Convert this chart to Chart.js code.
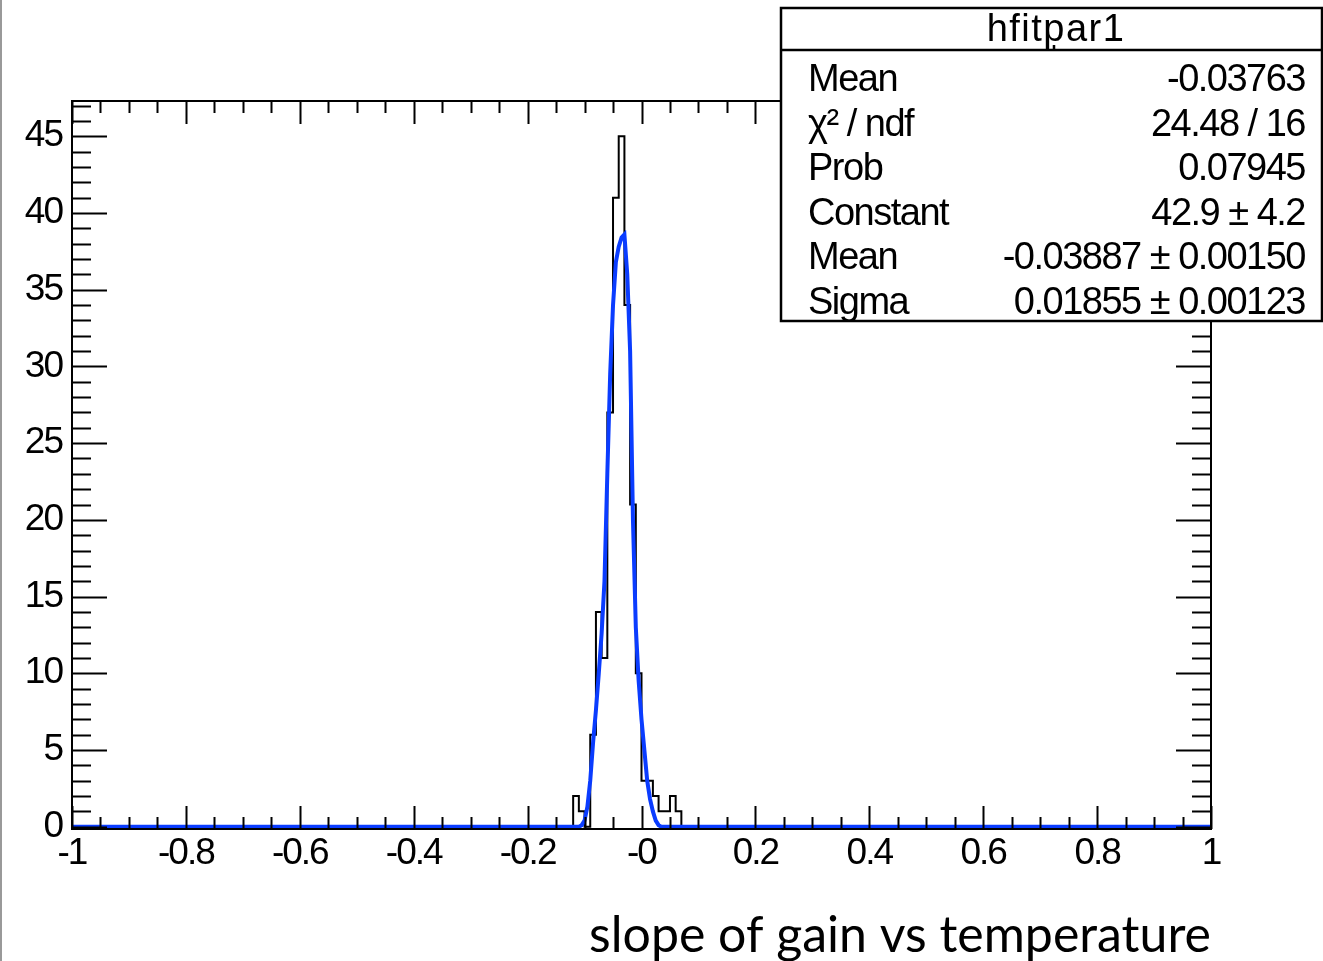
<!DOCTYPE html>
<html>
<head>
<meta charset="utf-8">
<script src="https://cdn.jsdelivr.net/npm/chart.js@4.4.1/dist/chart.umd.min.js"></script>
<style>
  html, body { margin: 0; padding: 0; background: #fff; }
  #wrap { width: 1323px; height: 961px; }
</style>
</head>
<body>
<div id="wrap"><canvas id="graph" width="1323" height="961"></canvas></div>
<script>
// hfitpar1: 200 bins of 0.01 over [-1, 1], only the non-empty region is listed
const binLowEdges = [-0.12, -0.11, -0.10, -0.09, -0.08, -0.07, -0.06, -0.05, -0.04, -0.03,
                     -0.02, -0.01, 0.00, 0.01, 0.02, 0.03, 0.04, 0.05, 0.06, 0.07];
const binCounts   = [2, 1, 0, 6, 14, 11, 27, 41, 45, 34,
                     21, 10, 3, 3, 2, 1, 1, 2, 1, 0];

// gaussian fit curve as drawn
const fitX = [-1, -0.11, -0.105, -0.10, -0.095, -0.09, -0.085, -0.08, -0.075, -0.07, -0.065,
              -0.06, -0.055, -0.05, -0.045, -0.04, -0.035, -0.03, -0.025, -0.02, -0.015,
              -0.01, -0.005, 0.0, 0.005, 0.01, 0.015, 0.02, 0.025, 0.03, 0.035, 1];
const fitY = [0, 0, 0.1, 0.4, 1.3, 3.0, 5.5, 7.6, 10.0, 12.6, 16.0,
              23.0, 29.5, 34.0, 36.8, 37.8, 38.4, 38.6, 36.0, 31.0, 20.0,
              13.0, 9.5, 7.0, 5.0, 3.0, 1.8, 1.0, 0.4, 0.1, 0, 0];

const xTickValues = [-1, -0.8, -0.6, -0.4, -0.2, 0, 0.2, 0.4, 0.6, 0.8, 1];
const xTickLabels = ['-1', '-0.8', '-0.6', '-0.4', '-0.2', '-0', '0.2', '0.4', '0.6', '0.8', '1'];
const yTickValues = [0, 5, 10, 15, 20, 25, 30, 35, 40, 45];
const yTickLabels = ['0', '5', '10', '15', '20', '25', '30', '35', '40', '45'];

const statTitle = 'hfitpar1';
const statNames  = ['Mean', 'χ² / ndf', 'Prob', 'Constant', 'Mean', 'Sigma'];
const statValues = ['-0.03763', '24.48 / 16', '0.07945', '42.9 ± 4.2', '-0.03887 ± 0.00150', '0.01855 ± 0.00123'];

const xTitle = 'slope of gain vs temperature';

const histPoints = [{x: -1, y: 0}];
binLowEdges.forEach((e, i) => histPoints.push({x: e, y: binCounts[i]}));
histPoints.push({x: 1, y: 0});
const fitPoints = fitX.map((x, i) => ({x: x, y: fitY[i]}));

const labelFont = {family: '"Liberation Sans", Arial, sans-serif', size: 37};

// ROOT style frame: ticks drawn inside on all four sides, stats box on top
const rootFrame = {
  id: 'rootFrame',
  beforeDraw(chart) {
    chart.ctx.letterSpacing = '0px';
  },
  afterDatasetsDraw(chart) {
    const {ctx, chartArea: a, scales: {x, y}} = chart;
    ctx.save();
    ctx.strokeStyle = '#000';
    ctx.lineWidth = 2;
    ctx.strokeRect(a.left, a.top, a.right - a.left, a.bottom - a.top);
    ctx.beginPath();
    for (let i = 0; i <= 40; i++) {
      const px = Math.round(x.getPixelForValue(-1 + i * 0.05)) + 0.5;
      const len = i % 4 === 0 ? 23 : 12;
      ctx.moveTo(px, a.bottom); ctx.lineTo(px, a.bottom - len);
      ctx.moveTo(px, a.top); ctx.lineTo(px, a.top + len);
    }
    for (let v = 0; v <= 47; v++) {
      const py = Math.round(y.getPixelForValue(v)) + 0.5;
      const len = v % 5 === 0 ? 35 : 19;
      ctx.moveTo(a.left, py); ctx.lineTo(a.left + len, py);
      ctx.moveTo(a.right, py); ctx.lineTo(a.right - len, py);
    }
    ctx.stroke();
    ctx.restore();
    ctx.letterSpacing = '-2px';
  },
  afterDraw(chart) {
    const ctx = chart.ctx;
    ctx.save();
    ctx.fillStyle = '#999';
    ctx.fillRect(0, 0, 2, 961);

    ctx.fillStyle = '#fff';
    ctx.fillRect(780, 8, 542, 313);
    ctx.strokeStyle = '#000';
    ctx.lineWidth = 2.5;
    ctx.strokeRect(781, 8, 541, 313);
    ctx.beginPath();
    ctx.moveTo(781, 50); ctx.lineTo(1322, 50);
    ctx.moveTo(1054, 45); ctx.lineTo(1054, 50);
    ctx.stroke();

    ctx.fillStyle = '#000';
    ctx.font = '38px "Liberation Sans", Arial, sans-serif';
    ctx.textBaseline = 'alphabetic';
    ctx.letterSpacing = '1.5px';
    ctx.textAlign = 'center';
    ctx.fillText(statTitle, 1056, 41);
    ctx.letterSpacing = '-1.5px';
    statNames.forEach((n, i) => {
      const by = 91 + i * 44.6;
      ctx.textAlign = 'left';
      ctx.fillText(n, 808, by);
      ctx.textAlign = 'right';
      ctx.fillText(statValues[i], 1305, by);
    });
    ctx.restore();
    ctx.letterSpacing = '0px';
  }
};

new Chart(document.getElementById('graph'), {
  type: 'line',
  data: {
    datasets: [
      { label: 'fit', data: fitPoints, borderColor: '#0a3cff', borderWidth: 4,
        pointRadius: 0, tension: 0, fill: false, order: 0 },
      { label: statTitle, data: histPoints, borderColor: '#000', borderWidth: 2,
        pointRadius: 0, stepped: 'before', fill: false, order: 1 }
    ]
  },
  options: {
    responsive: false,
    animation: false,
    events: [],
    layout: { padding: { left: 0, top: 101, right: 112, bottom: 0 } },
    plugins: { legend: { display: false }, tooltip: { enabled: false } },
    scales: {
      x: {
        type: 'linear', min: -1, max: 1,
        grid: { display: false, drawTicks: false },
        border: { display: false },
        afterBuildTicks: s => { s.ticks = xTickValues.map(v => ({value: v})); },
        afterFit: s => { s.height = 132; },
        ticks: {
          z: 1, autoSkip: false, maxRotation: 0, padding: 3,
          color: '#000', font: labelFont,
          callback: (v, i) => xTickLabels[i]
        },
        title: {
          display: true, text: xTitle, align: 'end', color: '#000',
          font: { family: 'Lato, "Open Sans", sans-serif', size: 50, lineHeight: 1.0 },
          padding: { top: 0, bottom: 0 }
        }
      },
      y: {
        type: 'linear', min: -0.15, max: 47.3,
        grid: { display: false, drawTicks: false },
        border: { display: false },
        afterBuildTicks: s => { s.ticks = yTickValues.map(v => ({value: v})); },
        afterFit: s => { s.width = 72; },
        ticks: {
          z: 1, padding: 10, color: '#000', font: labelFont,
          callback: (v, i) => yTickLabels[i]
        }
      }
    }
  },
  plugins: [rootFrame]
});
</script>
</body>
</html>
